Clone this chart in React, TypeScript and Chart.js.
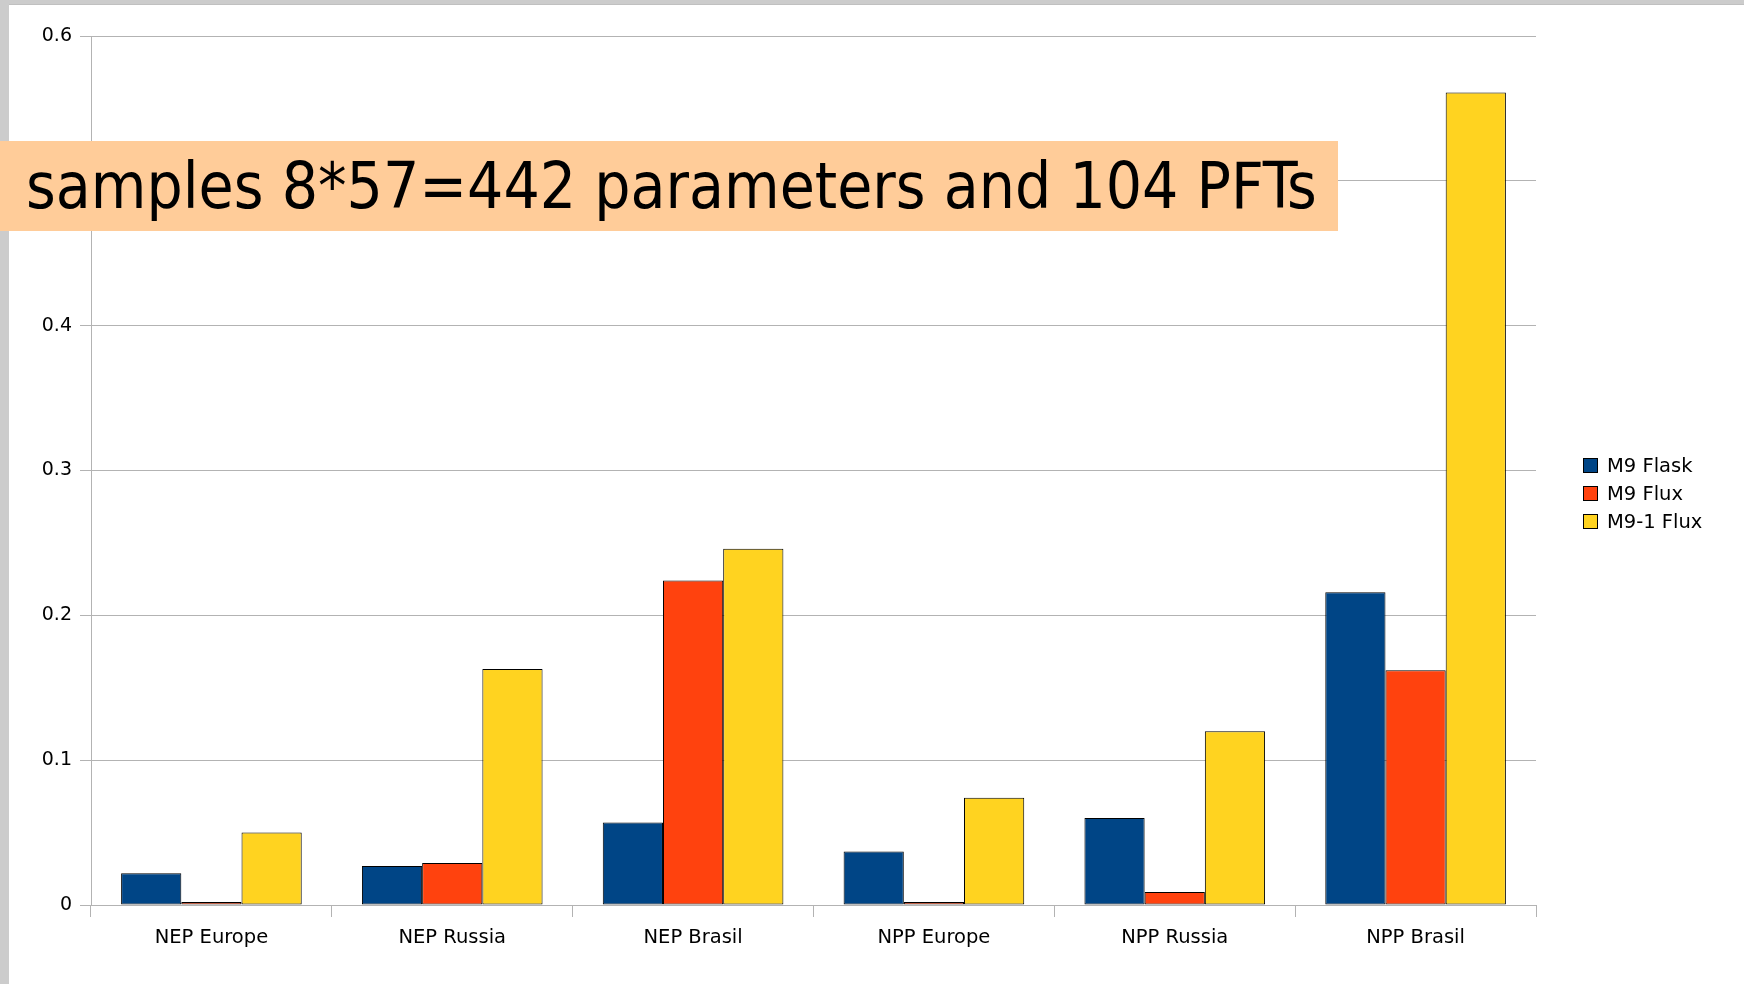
import React, { useEffect, useRef } from "react";
import { Chart, registerables } from "chart.js";

Chart.register(...registerables);

const categories = ["NEP Europe", "NEP Russia", "NEP Brasil", "NPP Europe", "NPP Russia", "NPP Brasil"];
const seriesNames = ["M9 Flask", "M9 Flux", "M9-1 Flux"];
const m9Flask = [0.022, 0.027, 0.057, 0.037, 0.06, 0.216];
const m9Flux = [0.002, 0.029, 0.224, 0.002, 0.009, 0.162];
const m91Flux = [0.05, 0.163, 0.246, 0.074, 0.12, 0.561];
const seriesColors = ["#004586", "#ff420e", "#ffd320"];
const seriesBorders = ["#000000", "#000000", "#000000"];
const yTicks = [0, 0.1, 0.2, 0.3, 0.4, 0.5, 0.6];
const overlayText = "samples 8*57=442 parameters and 104 PFTs";

const W = 1744;
const H = 984;
const GRID = "#b3b3b3";
const FONT = "'DejaVu Sans', sans-serif";

export default function App() {
  const ref = useRef<HTMLCanvasElement | null>(null);

  useEffect(() => {
    if (!ref.current) return;
    const values = [m9Flask, m9Flux, m91Flux];
    const chart = new Chart(ref.current, {
      type: "bar",
      data: {
        labels: categories,
        datasets: seriesNames.map((name, i) => ({
          label: name,
          data: values[i],
          backgroundColor: seriesColors[i],
          borderColor: seriesBorders[i],
          borderWidth: 1,
          borderSkipped: false,
          categoryPercentage: 0.75,
          barPercentage: 1.0,
        })),
      },
      options: {
        animation: false,
        responsive: false,
        maintainAspectRatio: false,
        layout: { padding: { left: 0, top: 36, right: 208, bottom: 0 } },
        plugins: {
          legend: { display: false },
          tooltip: { enabled: false },
        },
        scales: {
          x: {
            offset: true,
            grid: {
              offset: true,
              drawOnChartArea: true,
              color: (ctx: any) => (ctx.index === categories.length ? GRID : "rgba(0,0,0,0)"),
              tickColor: GRID,
              tickLength: 12,
              lineWidth: 1,
            },
            border: { color: GRID, width: 1 },
            ticks: {
              color: "#000",
              font: { family: FONT, size: 19.5 },
              padding: 9,
              maxRotation: 0,
            },
            afterFit: (s: any) => {
              s.height = H - 905;
            },
          },
          y: {
            min: 0,
            max: 0.6,
            afterBuildTicks: (s: any) => {
              s.ticks = yTicks.map((v) => ({ value: v }));
            },
            grid: {
              color: GRID,
              tickColor: GRID,
              tickLength: 11,
              lineWidth: 1,
            },
            border: { color: GRID, width: 1 },
            ticks: {
              color: "#000",
              font: { family: FONT, size: 19 },
              padding: 8,
              callback: (v: any) => String(Number(Number(v).toFixed(1))),
            },
            afterFit: (s: any) => {
              s.width = 91;
            },
          },
        },
      },
    });
    return () => chart.destroy();
  }, []);

  return (
    <div style={{ position: "fixed", left: 0, top: 0, width: W, height: H, background: "#fff", overflow: "hidden" }}>
      <canvas ref={ref} width={W} height={H} style={{ position: "absolute", left: 0, top: 0, width: W, height: H }} />
      <div style={{ position: "absolute", left: 0, top: 0, width: W, height: 4, background: "#cccccc", borderBottom: "1px solid #c0c0c0" }} />
      <div style={{ position: "absolute", left: 0, top: 0, width: 9, height: H, background: "#cccccc" }} />
      <div
        style={{
          position: "absolute",
          left: 0,
          top: 141,
          width: 1338,
          height: 90,
          background: "#ffcc99",
          display: "flex",
          alignItems: "center",
          boxSizing: "border-box",
          paddingLeft: 26,
        }}
      >
        <span
          style={{
            fontFamily: "'DejaVu Sans Condensed', 'DejaVu Sans', sans-serif",
            fontStretch: "condensed",
            fontSize: 63.5,
            color: "#000",
            whiteSpace: "nowrap",
            lineHeight: "90px",
          }}
        >
          {overlayText}
        </span>
      </div>
      {seriesNames.map((name, i) => (
        <div
          key={name}
          style={{
            position: "absolute",
            left: 1583,
            top: 465 + i * 28 - 12,
            height: 24,
            display: "flex",
            alignItems: "center",
            fontFamily: FONT,
            fontSize: 19.5,
            color: "#000",
            whiteSpace: "nowrap",
          }}
        >
          <span
            style={{
              display: "inline-block",
              width: 15,
              height: 15,
              boxSizing: "border-box",
              background: seriesColors[i],
              border: `1px solid ${seriesBorders[i]}`,
              marginRight: 9,
            }}
          />
          {name}
        </div>
      ))}
    </div>
  );
}
